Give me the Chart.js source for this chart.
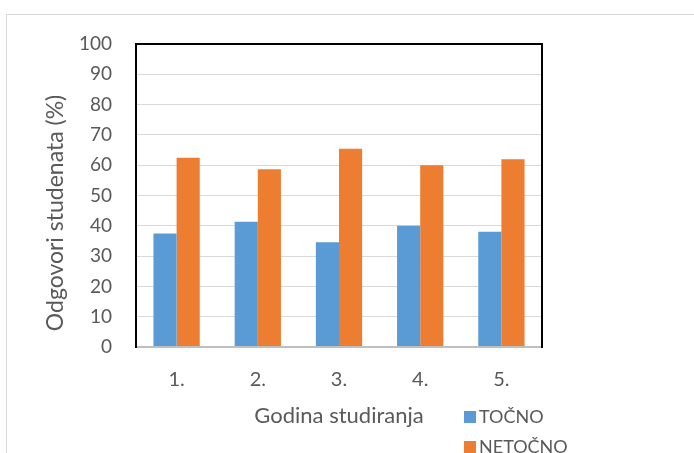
<!DOCTYPE html>
<html>
<head>
<meta charset="utf-8">
<script src="https://cdn.jsdelivr.net/npm/chart.js@4.4.0/dist/chart.umd.min.js"></script>
<style>
  html, body { margin: 0; padding: 0; background: #fff; overflow: hidden; }
  #wrap { position: relative; width: 694px; height: 453px; }
  #frame { position: absolute; left: 6px; top: 14px; width: 800px; height: 600px; border: 1px solid #d9d9d9; box-sizing: border-box; }
  canvas { position: absolute; left: 0; top: 0; }
</style>
</head>
<body>
<div id="wrap">
  <div id="frame"></div>
  <canvas id="chart" width="694" height="453"></canvas>
</div>
<script>
const categories = ['1.', '2.', '3.', '4.', '5.'];
const tocno = [37.5, 41.3, 34.6, 40, 38];
const netocno = [62.5, 58.7, 65.4, 60, 62];
const seriesNames = ['TOČNO', 'NETOČNO'];
const yTitle = 'Odgovori studenata (%)';
const xTitle = 'Godina studiranja';

const textColor = '#595959';
const fontFamily = 'Lato, "Open Sans", sans-serif';

// frame around plot, custom legend, rotated y title
const extras = {
    id: 'extras',
    afterDatasetsDraw(chart) {
        const {ctx, chartArea: a} = chart;
        ctx.save();
        ctx.strokeStyle = '#bfbfbf';
        ctx.lineWidth = 2;
        ctx.beginPath();
        ctx.moveTo(a.left, a.bottom);
        ctx.lineTo(a.right, a.bottom);
        ctx.stroke();
        ctx.strokeStyle = '#000';
        ctx.beginPath();
        ctx.moveTo(a.left, a.bottom + 1);
        ctx.lineTo(a.left, a.top);
        ctx.lineTo(a.right, a.top);
        ctx.lineTo(a.right, a.bottom + 1);
        ctx.stroke();
        ctx.restore();
    },
    afterDraw(chart) {
        const {ctx} = chart;
        ctx.save();
        // y title
        ctx.fillStyle = textColor;
        ctx.font = '23px ' + fontFamily;
        ctx.textAlign = 'center';
        ctx.textBaseline = 'middle';
        ctx.translate(56, 213);
        ctx.rotate(-Math.PI / 2);
        ctx.fillText(yTitle, 0, 0);
        ctx.restore();

        // legend
        ctx.save();
        ctx.font = '18px ' + fontFamily;
        ctx.textBaseline = 'middle';
        ctx.textAlign = 'left';
        chart.data.datasets.forEach((ds, i) => {
            const y = 417 + i * 30;
            ctx.fillStyle = ds.backgroundColor;
            ctx.fillRect(464, y - 6, 12, 12);
            ctx.fillStyle = textColor;
            ctx.fillText(ds.label, 479, y);
        });
        ctx.restore();
    }
};

const ctx = document.getElementById('chart').getContext('2d');
const chart = new Chart(ctx, {
    type: 'bar',
    data: {
        labels: categories,
        datasets: [{
            label: seriesNames[0],
            data: tocno,
            backgroundColor: '#5B9BD5',
            categoryPercentage: 0.57,
            barPercentage: 1.0
        }, {
            label: seriesNames[1],
            data: netocno,
            backgroundColor: '#ED7D31',
            categoryPercentage: 0.57,
            barPercentage: 1.0
        }]
    },
    options: {
        responsive: false,
        animation: false,
        layout: { padding: { top: 44, right: 152, left: 0, bottom: 0 } },
        plugins: {
            legend: { display: false },
            tooltip: { enabled: false }
        },
        scales: {
            x: {
                grid: { display: false, drawTicks: false },
                border: { display: false },
                ticks: { color: textColor, font: { family: fontFamily, size: 20 }, padding: 21 },
                title: {
                    display: true,
                    text: xTitle,
                    color: textColor,
                    font: { family: fontFamily, size: 22 },
                    padding: { top: 0, bottom: 24 }
                },
                afterFit(scale) { scale.height = 106; }
            },
            y: {
                min: 0,
                max: 100,
                ticks: { stepSize: 10, color: textColor, font: { family: fontFamily, size: 19 }, padding: 24 },
                grid: { color: '#d9d9d9', lineWidth: 1, drawTicks: false },
                border: { display: false },
                afterFit(scale) { scale.width = 136; }
            }
        }
    },
    plugins: [extras]
});
</script>
</body>
</html>
